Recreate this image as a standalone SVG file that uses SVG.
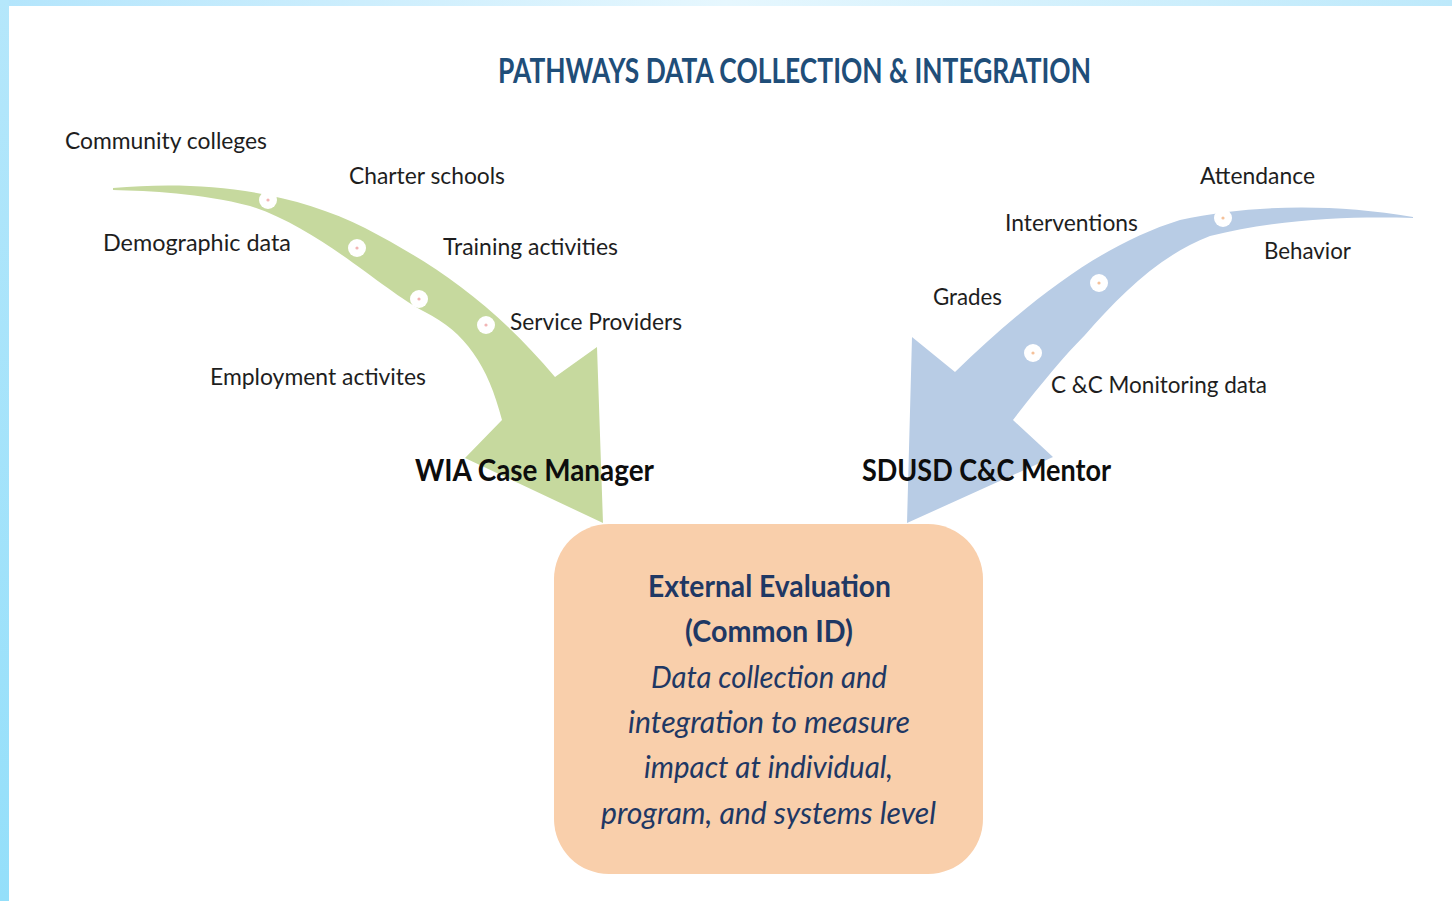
<svg xmlns="http://www.w3.org/2000/svg" width="1452" height="901" viewBox="0 0 1452 901">
<style>
  .lbl { font-family: Lato, "Liberation Sans", sans-serif; font-size: 24px; fill: #1e1e1e; }
  .role { font-family: Lato, "Liberation Sans", sans-serif; font-size: 30px; font-weight: bold; fill: #0d0d0d; }
  .title { font-family: Lato, "Liberation Sans", sans-serif; font-size: 34px; font-weight: bold; fill: #1f4e79; }
  .boxb { font-family: Lato, "Liberation Sans", sans-serif; font-size: 30px; font-weight: bold; fill: #1f3864; }
  .boxi { font-family: Lato, "Liberation Sans", sans-serif; font-size: 30px; font-style: italic; fill: #1f3864; }
  .dot { fill: #ffffff; }
  .dotc-g { fill: #f2b5b5; }
  .dotc-b { fill: #f5c19a; }
</style>
<defs>
  <linearGradient id="topbar" x1="0" y1="0" x2="1" y2="0">
    <stop offset="0" stop-color="#b3e5fc"/>
    <stop offset="0.5" stop-color="#e6f7fe"/>
    <stop offset="1" stop-color="#bde9fb"/>
  </linearGradient>
  <linearGradient id="leftbar" x1="0" y1="0" x2="0" y2="1">
    <stop offset="0" stop-color="#b5e7fb"/>
    <stop offset="1" stop-color="#94dffa"/>
  </linearGradient>
</defs>
<rect x="0" y="0" width="1452" height="901" fill="#ffffff"/>
<rect x="0" y="0" width="1452" height="6" fill="url(#topbar)"/>
<rect x="0" y="0" width="9" height="901" fill="url(#leftbar)"/>

<g id="title">
  <text class="title" x="498" y="83" textLength="593" lengthAdjust="spacingAndGlyphs">PATHWAYS DATA COLLECTION &amp; INTEGRATION</text>
</g>

<g id="connectors">
  <path id="green-arrow" fill="#c6d99e" d="M113,188 C200,180 290,190 365,228 C430,262 490,300 555,377 L597,347 L603,523 L465,458 L502,420 C488,365 465,332 425,312 C385,292 320,228 250,206 C200,193 150,191 113,190 Z"/>
  <path id="blue-arrow" fill="#b8cce5" d="M1413,217 C1330,203 1250,205 1180,220 C1100,245 1030,300 955,372 L912,337 L907,523 L1053,457 L1013,420 C1040,385 1065,355 1085,335 C1120,295 1160,255 1210,236 C1280,218 1360,216 1413,218 Z"/>
  <g id="green-dots">
    <circle class="dot" cx="268" cy="200" r="9"/><circle class="dotc-g" cx="268" cy="200" r="1.6"/>
    <circle class="dot" cx="357" cy="248" r="9"/><circle class="dotc-g" cx="357" cy="248" r="1.6"/>
    <circle class="dot" cx="419" cy="299" r="9"/><circle class="dotc-g" cx="419" cy="299" r="1.6"/>
    <circle class="dot" cx="486" cy="325" r="9"/><circle class="dotc-g" cx="486" cy="325" r="1.6"/>
  </g>
  <g id="blue-dots">
    <circle class="dot" cx="1223" cy="218" r="9"/><circle class="dotc-b" cx="1223" cy="218" r="1.6"/>
    <circle class="dot" cx="1099" cy="283" r="9"/><circle class="dotc-b" cx="1099" cy="283" r="1.6"/>
    <circle class="dot" cx="1033" cy="353" r="9"/><circle class="dotc-b" cx="1033" cy="353" r="1.6"/>
  </g>
</g>

<g id="wia-sources">
  <text class="lbl" x="65" y="149" textLength="202" lengthAdjust="spacingAndGlyphs">Community colleges</text>
  <text class="lbl" x="349" y="184" textLength="156" lengthAdjust="spacingAndGlyphs">Charter schools</text>
  <text class="lbl" x="103" y="251" textLength="188" lengthAdjust="spacingAndGlyphs">Demographic  data</text>
  <text class="lbl" x="443" y="255" textLength="175" lengthAdjust="spacingAndGlyphs">Training activities</text>
  <text class="lbl" x="510" y="330" textLength="172" lengthAdjust="spacingAndGlyphs">Service Providers</text>
  <text class="lbl" x="210" y="385" textLength="216" lengthAdjust="spacingAndGlyphs">Employment activites</text>
</g>

<g id="sdusd-sources">
  <text class="lbl" x="1200" y="184" textLength="115" lengthAdjust="spacingAndGlyphs">Attendance</text>
  <text class="lbl" x="1005" y="231" textLength="133" lengthAdjust="spacingAndGlyphs">Interventions</text>
  <text class="lbl" x="1264" y="259" textLength="87" lengthAdjust="spacingAndGlyphs">Behavior</text>
  <text class="lbl" x="933" y="305" textLength="69" lengthAdjust="spacingAndGlyphs">Grades</text>
  <text class="lbl" x="1051" y="393" textLength="216" lengthAdjust="spacingAndGlyphs">C &amp;C Monitoring data</text>
</g>

<g id="wia-case-manager">
  <text class="role" x="415" y="481" textLength="239" lengthAdjust="spacingAndGlyphs">WIA Case Manager</text>
</g>

<g id="sdusd-mentor">
  <text class="role" x="862" y="481" textLength="249" lengthAdjust="spacingAndGlyphs">SDUSD C&amp;C Mentor</text>
</g>

<g id="external-evaluation">
  <rect x="554" y="524" width="429" height="350" rx="55" ry="55" fill="#f9cfab"/>
  <text class="boxb" x="648" y="597" textLength="243" lengthAdjust="spacingAndGlyphs">External Evaluation</text>
  <text class="boxb" x="685" y="642" textLength="168" lengthAdjust="spacingAndGlyphs">(Common ID)</text>
  <text class="boxi" x="651" y="688" textLength="236" lengthAdjust="spacingAndGlyphs">Data collection and</text>
  <text class="boxi" x="628" y="733" textLength="282" lengthAdjust="spacingAndGlyphs">integration to measure</text>
  <text class="boxi" x="644" y="778" textLength="249" lengthAdjust="spacingAndGlyphs">impact at individual,</text>
  <text class="boxi" x="601" y="824" textLength="335" lengthAdjust="spacingAndGlyphs">program, and systems level</text>
</g>
</svg>
